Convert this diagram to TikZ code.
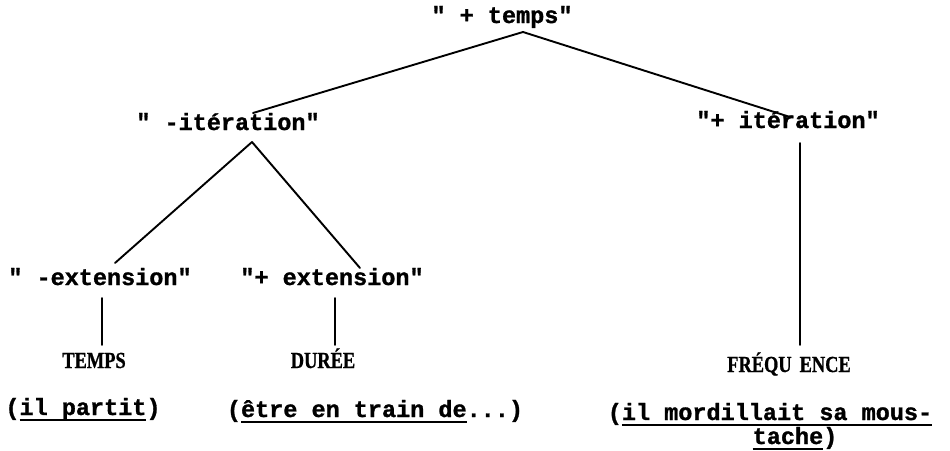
\documentclass[tikz,border=0pt]{standalone}
\usepackage{fontspec}
% typewriter face for the glosses, serif capitals for the category names
\newfontfamily\typew{Liberation Mono}[Ligatures=ResetAll,BoldFeatures={FakeBold=1.2}]
\newfontfamily\capsfont{Liberation Serif}[FakeStretch=0.8,BoldFeatures={FakeBold=0.8}]
% thick typed underline
\newcommand\tul[1]{\setbox0\hbox{#1}\rlap{\rule[-6pt]{\wd0}{2.4pt}}\box0}

\begin{document}
\begin{tikzpicture}[x=1pt,y=-1pt,
  wordnode/.style={anchor=base,inner sep=0pt,font=\typew\bfseries\fontsize{23.5}{24}\selectfont},
  termnode/.style={anchor=base,inner sep=0pt,font=\capsfont\bfseries\fontsize{23}{24}\selectfont},
  branch/.style={line width=1.9pt,line cap=round}]
\useasboundingbox (0,0) rectangle (950,450);

% tree labels
\node[wordnode] (root)     at (502,23)  {" + temps"};
\node[wordnode] (minusit)  at (228,130) {" -itération"};
\node[wordnode] (plusit)   at (788,128) {"+ itération"};
\node[wordnode] (minusext) at (100,285) {" -extension"};
\node[wordnode] (plusext)  at (332,285) {"+ extension"};

% categories
\node[termnode] (temps) at (94,368)  {TEMPS};
\node[termnode] (duree) at (323,368) {DURÉE};
\node[termnode] (freq)  at (789,372) {FRÉQU\hspace{8pt}ENCE};

% examples
\node[wordnode] (ex1)  at (83,415)  {(\tul{il partit})};
\node[wordnode] (ex2)  at (375,417) {(\tul{être en train de}...)};
\node[wordnode] (ex3)  at (770,420) {(\tul{il mordillait sa mous-}};
\node[wordnode] (ex3b) at (795,444) {\tul{tache})};

% branches
\draw[branch] ([shift={(21,9)}]root.base) -- ([shift={(25,-17)}]minusit.base);
\draw[branch] ([shift={(21,9)}]root.base) -- ([shift={(2,-11)}]plusit.base);
\draw[branch] ([shift={(24,12)}]minusit.base) -- ([shift={(15,-22)}]minusext.base);
\draw[branch] ([shift={(24,12)}]minusit.base) -- ([shift={(28,-17)}]plusext.base);
\draw[branch] ([shift={(2,13)}]minusext.base) -- ([shift={(8,-23)}]temps.base);
\draw[branch] ([shift={(3,13)}]plusext.base) -- ([shift={(12,-23)}]duree.base);
\draw[branch] ([shift={(12,15)}]plusit.base) -- ([shift={(11,-27)}]freq.base);
\end{tikzpicture}
\end{document}
